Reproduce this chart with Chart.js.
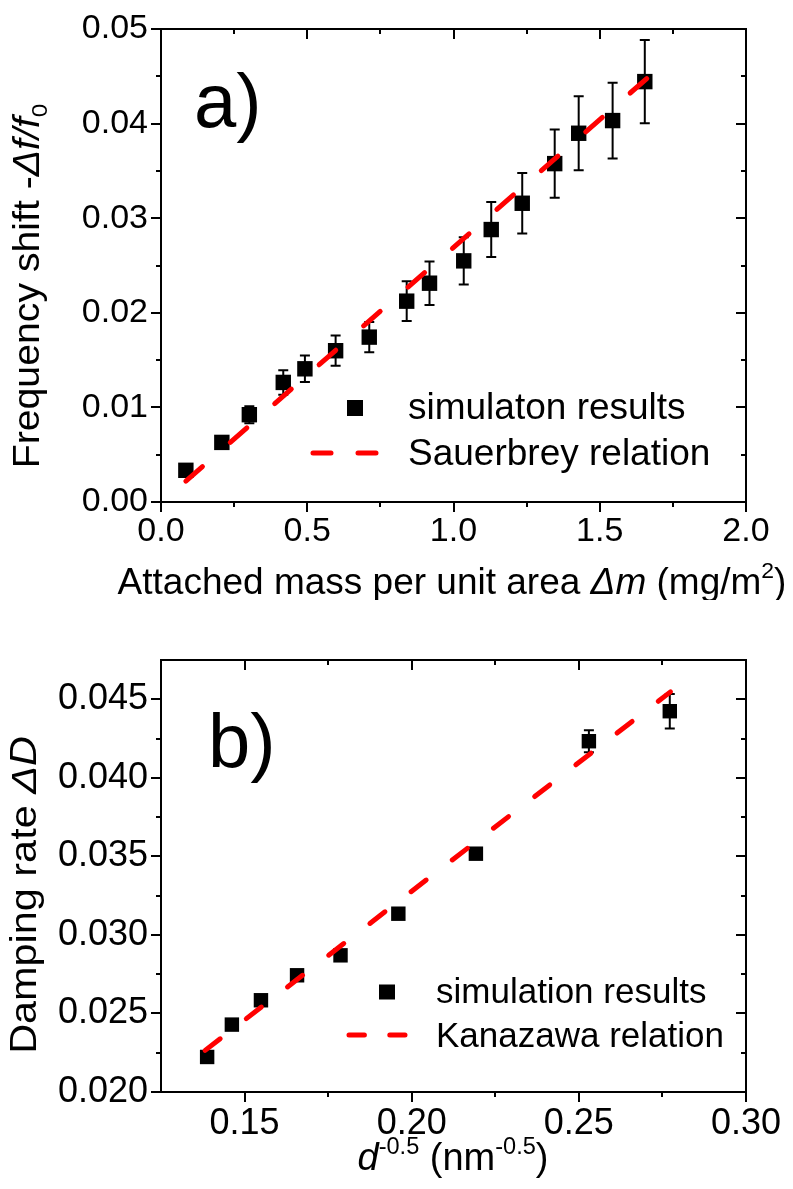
<!DOCTYPE html>
<html><head><meta charset="utf-8">
<script src="https://cdn.jsdelivr.net/npm/chart.js@4.4.1/dist/chart.umd.min.js"></script>
<style>
html,body{margin:0;padding:0;background:#fff;}
#wrap{position:relative;width:793px;height:1189px;overflow:hidden;}
canvas{position:absolute;left:0;}
#ca{top:0;} #cb{top:600px;}
</style></head><body>
<div id="wrap"><canvas id="ca" width="793" height="600"></canvas><canvas id="cb" width="793" height="589"></canvas></div>
<script>
// ---------- Panel a data ----------
const massA     = [0.085, 0.208, 0.302, 0.418, 0.492, 0.597, 0.712, 0.840, 0.918, 1.035, 1.129, 1.235, 1.346, 1.428, 1.544, 1.654];
const shiftA    = [0.00335, 0.0063, 0.00923, 0.01264, 0.01408, 0.01599, 0.01743, 0.02123, 0.02313, 0.02549, 0.0288, 0.03158, 0.03577, 0.03898, 0.04032, 0.04444];
const shiftErrA = [0.0003, 0.0006, 0.0009, 0.0013, 0.0014, 0.0016, 0.0016, 0.0021, 0.0023, 0.0025, 0.0029, 0.0032, 0.0036, 0.0039, 0.0040, 0.0044];
const sauerbreyX = [0.085, 1.662];
const sauerbreyY = [0.0022, 0.0448];
const xTicksA  = [0, 0.5, 1.0, 1.5, 2.0];
const xLabelsA = ['0.0', '0.5', '1.0', '1.5', '2.0'];
const xMinorA  = [0.25, 0.75, 1.25, 1.75];
const yTicksA  = [0, 0.01, 0.02, 0.03, 0.04, 0.05];
const yLabelsA = ['0.00', '0.01', '0.02', '0.03', '0.04', '0.05'];
const yMinorA  = [0.005, 0.015, 0.025, 0.035, 0.045];

// ---------- Panel b data ----------
const dB       = [0.1388, 0.1462, 0.1549, 0.1657, 0.1787, 0.1960, 0.2192, 0.2530, 0.2772];
const dampB    = [0.02223, 0.02429, 0.02584, 0.02743, 0.02870, 0.03135, 0.03517, 0.04233, 0.04424];
const dampErrB = [0.0002, 0.0002, 0.0002, 0.0002, 0.0003, 0.0003, 0.0003, 0.0007, 0.0011];
const kanazawaX = [0.1382, 0.2774];
const kanazawaY = [0.02265, 0.04547];
const xTicksB  = [0.15, 0.20, 0.25, 0.30];
const xLabelsB = ['0.15', '0.20', '0.25', '0.30'];
const xMinorB  = [0.175, 0.225, 0.275];
const yTicksB  = [0.020, 0.025, 0.030, 0.035, 0.040, 0.045];
const yLabelsB = ['0.020', '0.025', '0.030', '0.035', '0.040', '0.045'];
const yMinorB  = [0.0225, 0.0275, 0.0325, 0.0375, 0.0425];

const FONT = "'Liberation Sans', Arial, Helvetica, sans-serif";

function drawRich(ctx, parts, x, y, size, align, rot, stretch) {
  ctx.save();
  ctx.translate(x, y);
  if (rot) ctx.rotate(rot);
  if (stretch) ctx.scale(stretch, 1);
  const items = parts.map(p => {
    const s = (p.sup || p.sub) ? size * 0.62 : size;
    const f = (p.i ? 'italic ' : '') + s + 'px ' + FONT;
    ctx.font = f;
    return {t: p.t, f, w: ctx.measureText(p.t).width, dy: p.sup ? -size * 0.42 : (p.sub ? size * 0.22 : 0)};
  });
  const total = items.reduce((a, b) => a + b.w, 0);
  let cx = align === 'center' ? -total / 2 : 0;
  ctx.fillStyle = '#000'; ctx.textBaseline = 'alphabetic'; ctx.textAlign = 'left';
  for (const it of items) { ctx.font = it.f; ctx.fillText(it.t, cx, it.dy); cx += it.w; }
  ctx.restore();
}

const errPlugin = {
  id: 'errbars',
  beforeDatasetsDraw(chart, args, o) {
    const {ctx, scales: {x, y}} = chart;
    ctx.save();
    ctx.strokeStyle = '#000'; ctx.lineWidth = 2;
    o.xs.forEach((xv, i) => {
      const px = x.getPixelForValue(xv);
      const p1 = y.getPixelForValue(o.ys[i] + o.err[i]);
      const p2 = y.getPixelForValue(o.ys[i] - o.err[i]);
      ctx.beginPath();
      ctx.moveTo(px, p1); ctx.lineTo(px, p2);
      ctx.moveTo(px - o.cap, p1); ctx.lineTo(px + o.cap, p1);
      ctx.moveTo(px - o.cap, p2); ctx.lineTo(px + o.cap, p2);
      ctx.stroke();
    });
    ctx.restore();
  }
};

const framePlugin = {
  id: 'frame',
  afterDraw(chart, args, o) {
    const {ctx, chartArea: a, scales: {x, y}} = chart;
    ctx.save();
    ctx.strokeStyle = '#000'; ctx.lineWidth = 2; ctx.lineCap = 'butt';
    ctx.beginPath();
    ctx.moveTo(a.left, a.top); ctx.lineTo(a.right, a.top); ctx.lineTo(a.right, a.bottom);
    const xt = (vals, len) => vals.forEach(v => {
      const p = Math.round(x.getPixelForValue(v));
      ctx.moveTo(p, a.bottom); ctx.lineTo(p, a.bottom + len);
      ctx.moveTo(p, a.top); ctx.lineTo(p, a.top + len);
    });
    const yt = (vals, len) => vals.forEach(v => {
      const p = Math.round(y.getPixelForValue(v));
      ctx.moveTo(a.left - len, p); ctx.lineTo(a.left, p);
      ctx.moveTo(a.right - len, p); ctx.lineTo(a.right, p);
    });
    xt(o.xMajor, 10); xt(o.xMinor, 5); yt(o.yMajor, 10); yt(o.yMinor, 5);
    ctx.stroke();
    // panel label
    ctx.fillStyle = '#000'; ctx.font = o.panel.size + 'px ' + FONT; ctx.textBaseline = 'alphabetic'; ctx.textAlign = 'left';
    ctx.fillText(o.panel.t, o.panel.x, o.panel.y);
    // legend
    const L = o.legend;
    ctx.fillRect(L.sq.x - L.sq.w / 2, L.sq.y - L.sq.h / 2, L.sq.w, L.sq.h);
    ctx.strokeStyle = '#ff0000'; ctx.lineWidth = 5; ctx.lineCap = 'round';
    ctx.setLineDash(L.ln.dash);
    ctx.beginPath(); ctx.moveTo(L.ln.x1, L.ln.y); ctx.lineTo(L.ln.x2, L.ln.y); ctx.stroke();
    ctx.setLineDash([]);
    ctx.fillStyle = '#000'; ctx.font = L.size + 'px ' + FONT;
    ctx.fillText(L.t1, L.tx, L.ty1);
    ctx.fillText(L.t2, L.tx, L.ty2);
    // axis titles
    drawRich(ctx, o.xTitle.parts, o.xTitle.x, o.xTitle.y, o.xTitle.size, 'center', 0, 1);
    drawRich(ctx, o.yTitle.parts, o.yTitle.x, o.yTitle.y, o.yTitle.size, 'center', -Math.PI / 2, o.yTitle.stretch);
    ctx.restore();
  }
};

function axes(xmin, xmax, xt, xl, ymin, ymax, yt, yl, xh, yw, fs, xpad, ypad) {
  const tickFont = {family: FONT, size: fs};
  return {
    x: {type: 'linear', min: xmin, max: xmax,
        afterBuildTicks: s => { s.ticks = xt.map(v => ({value: v})); },
        afterFit: s => { s.height = xh; s.paddingLeft = 0; s.paddingRight = 0; },
        grid: {display: false, drawTicks: false},
        border: {display: true, color: '#000', width: 2},
        ticks: {font: tickFont, color: '#000', padding: xpad, maxRotation: 0, autoSkip: false,
                callback: (v, i) => xl[i]}},
    y: {type: 'linear', min: ymin, max: ymax,
        afterBuildTicks: s => { s.ticks = yt.map(v => ({value: v})); },
        afterFit: s => { s.width = yw; s.paddingTop = 0; s.paddingBottom = 0; },
        grid: {display: false, drawTicks: false},
        border: {display: true, color: '#000', width: 2},
        ticks: {font: tickFont, color: '#000', padding: ypad, autoSkip: false,
                callback: (v, i) => yl[i]}}
  };
}

new Chart(document.getElementById('ca'), {
  type: 'scatter',
  data: {datasets: [
    {label: 'Sauerbrey relation', type: 'line', showLine: true,
     data: sauerbreyX.map((v, i) => ({x: v, y: sauerbreyY[i]})),
     borderColor: '#ff0000', borderWidth: 5, borderDash: [22, 37], borderCapStyle: 'round',
     pointRadius: 0, fill: false, order: 0},
    {label: 'simulaton results', data: massA.map((v, i) => ({x: v, y: shiftA[i]})),
     pointStyle: 'rect', pointRadius: 10.9, backgroundColor: '#000', borderWidth: 0, order: 1}
  ]},
  options: {
    responsive: false, animation: false, devicePixelRatio: 1,
    layout: {padding: {top: 29, right: 47, left: 0, bottom: 0}},
    scales: axes(0, 2, xTicksA, xLabelsA, 0, 0.05, yTicksA, yLabelsA, 98, 161, 34, 9, 13),
    plugins: {
      legend: {display: false}, tooltip: {enabled: false},
      errbars: {xs: massA, ys: shiftA, err: shiftErrA, cap: 5},
      frame: {
        xMajor: xTicksA, xMinor: xMinorA, yMajor: yTicksA, yMinor: yMinorA,
        panel: {t: 'a)', x: 194, y: 127, size: 76},
        legend: {sq: {x: 355, y: 408, w: 16, h: 16}, ln: {x1: 313, x2: 376, y: 453, dash: [18, 27]},
                 size: 37, t1: 'simulaton results', t2: 'Sauerbrey relation', tx: 408, ty1: 419, ty2: 465},
        xTitle: {x: 452, y: 594, size: 37, parts: [{t: 'Attached mass per unit area '}, {t: '\u0394m', i: true}, {t: ' (mg/m'}, {t: '2', sup: true}, {t: ')'}]},
        yTitle: {x: 39, y: 286, size: 37, stretch: 1.06, parts: [{t: 'Frequency shift -'}, {t: '\u0394f/f', i: true}, {t: '0', sub: true}]}
      }
    }
  },
  plugins: [errPlugin, framePlugin]
});

new Chart(document.getElementById('cb'), {
  type: 'scatter',
  data: {datasets: [
    {label: 'Kanazawa relation', type: 'line', showLine: true,
     data: kanazawaX.map((v, i) => ({x: v, y: kanazawaY[i]})),
     borderColor: '#ff0000', borderWidth: 5, borderDash: [19, 33], borderCapStyle: 'round',
     pointRadius: 0, fill: false, order: 0},
    {label: 'simulation results', data: dB.map((v, i) => ({x: v, y: dampB[i]})),
     pointStyle: 'rect', pointRadius: 10.2, backgroundColor: '#000', borderWidth: 0, order: 1}
  ]},
  options: {
    responsive: false, animation: false, devicePixelRatio: 1,
    layout: {padding: {top: 60, right: 47, left: 0, bottom: 0}},
    scales: axes(0.125, 0.30, xTicksB, xLabelsB, 0.020, 0.0475, yTicksB, yLabelsB, 97, 161, 36, 10, 13),
    plugins: {
      legend: {display: false}, tooltip: {enabled: false},
      errbars: {xs: dB, ys: dampB, err: dampErrB, cap: 5},
      frame: {
        xMajor: xTicksB, xMinor: xMinorB, yMajor: yTicksB, yMinor: yMinorB,
        panel: {t: 'b)', x: 208, y: 167, size: 76},
        legend: {sq: {x: 387, y: 392, w: 16, h: 15}, ln: {x1: 349, x2: 405, y: 435, dash: [15.4, 25.4]},
                 size: 35, t1: 'simulation results', t2: 'Kanazawa relation', tx: 436, ty1: 403, ty2: 447},
        xTitle: {x: 453, y: 570, size: 38, parts: [{t: 'd', i: true}, {t: '-0.5', sup: true}, {t: ' (nm'}, {t: '-0.5', sup: true}, {t: ')'}]},
        yTitle: {x: 36, y: 295, size: 36, stretch: 1.15, parts: [{t: 'Damping rate '}, {t: '\u0394D', i: true}]}
      }
    }
  },
  plugins: [errPlugin, framePlugin]
});
</script>
</body></html>
